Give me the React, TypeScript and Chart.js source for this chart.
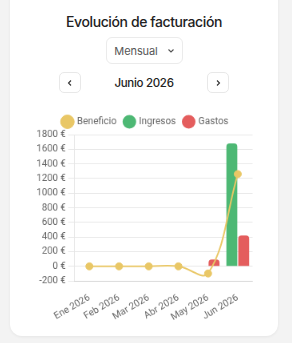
import React, { useEffect, useRef } from 'react';
import { Chart, registerables } from 'chart.js';

Chart.register(...registerables);

const categories = ['Ene 2026', 'Feb 2026', 'Mar 2026', 'Abr 2026', 'May 2026', 'Jun 2026'];
const beneficio = [0, 0, 0, 0, -98, 1260];
const ingresos = [0, 0, 0, 0, 0, 1680];
const gastos = [0, 0, 0, 0, 92, 420];
const yMin = -200;
const yMax = 1800;
const yStep = 200;

const YELLOW = '#E9C766';
const GREEN = '#4DB874';
const RED = '#E45D5D';

const SCALE = 0.8;
const CSS_W = 223;
const CSS_H = 219;

function ChartBox() {
  const ref = useRef<HTMLCanvasElement | null>(null);
  useEffect(() => {
    const canvas = ref.current;
    if (!canvas) return;
    const font = { family: 'Roboto', size: 12 };
    const chart = new Chart(canvas, {
      type: 'bar',
      data: {
        labels: categories,
        datasets: [
          {
            type: 'line',
            label: 'Beneficio',
            data: beneficio,
            borderColor: YELLOW,
            backgroundColor: YELLOW,
            borderWidth: 2,
            pointRadius: 4.5,
            pointBackgroundColor: YELLOW,
            pointBorderColor: YELLOW,
            pointBorderWidth: 1,
            tension: 0.4,
          } as any,
          {
            type: 'bar',
            label: 'Ingresos',
            data: ingresos,
            backgroundColor: GREEN,
            borderColor: GREEN,
            borderWidth: 0,
            borderRadius: 4,
            barPercentage: 0.92,
            categoryPercentage: 0.8,
          },
          {
            type: 'bar',
            label: 'Gastos',
            data: gastos,
            backgroundColor: RED,
            borderColor: RED,
            borderWidth: 0,
            borderRadius: 4,
            barPercentage: 0.92,
            categoryPercentage: 0.8,
          },
        ],
      },
      options: {
        responsive: false,
        devicePixelRatio: 1,
        animation: false,
        plugins: {
          legend: {
            position: 'top',
            labels: { usePointStyle: true, pointStyle: 'circle', color: '#666', font },
          },
          tooltip: { enabled: false },
        },
        scales: {
          x: {
            grid: { display: false },
            ticks: { color: '#666', font, padding: 6 },
          },
          y: {
            min: yMin,
            max: yMax,
            ticks: {
              stepSize: yStep,
              color: '#666',
              font,
              callback: (v: any) => v + ' €',
            },
          },
        },
      },
    });
    return () => chart.destroy();
  }, []);
  return (
    <canvas
      ref={ref}
      width={Math.round(CSS_W / SCALE)}
      height={Math.round(CSS_H / SCALE)}
      style={{ position: 'absolute', left: 34, top: 109, width: CSS_W, height: CSS_H }}
    />
  );
}

const btn: React.CSSProperties = {
  position: 'absolute',
  top: 72,
  width: 22,
  height: 21,
  border: '1px solid #e8e8e8',
  borderRadius: 5,
  boxSizing: 'border-box',
  display: 'flex',
  alignItems: 'center',
  justifyContent: 'center',
  background: '#fff',
};

export default function App() {
  return (
    <div
      style={{
        position: 'fixed',
        inset: 0,
        background: '#f3f3f3',
        fontFamily: 'Inter, sans-serif',
        overflow: 'hidden',
      }}
    >
      <div
        style={{
          position: 'absolute',
          left: 10,
          top: -20,
          width: 268,
          height: 356,
          background: '#fff',
          borderRadius: 12,
          boxShadow: '0 1px 3px rgba(0,0,0,0.06)',
        }}
      />
      <div
        style={{
          position: 'absolute',
          left: 10,
          width: 268,
          top: 12,
          textAlign: 'center',
          fontSize: 14,
          fontWeight: 500,
          color: '#222',
          lineHeight: '20px',
          letterSpacing: -0.4,
        }}
      >
        Evolución de facturación
      </div>
      <div
        style={{
          position: 'absolute',
          left: 106,
          top: 37,
          width: 77,
          height: 27,
          border: '1px solid #ebebeb',
          borderRadius: 6,
          boxSizing: 'border-box',
          display: 'flex',
          alignItems: 'center',
          justifyContent: 'center',
          gap: 9,
          fontSize: 11,
          color: '#555',
          letterSpacing: -0.1,
        }}
      >
        <span>Mensual</span>
        <svg width="8" height="6" viewBox="0 0 8 6">
          <polyline points="1.5,1.5 4,4 6.5,1.5" fill="none" stroke="#555" strokeWidth="1.1" />
        </svg>
      </div>
      <div style={{ ...btn, left: 59 }}>
        <svg width="6" height="8" viewBox="0 0 6 8">
          <polyline points="4,1.5 1.5,4 4,6.5" fill="none" stroke="#333" strokeWidth="1.1" />
        </svg>
      </div>
      <div style={{ ...btn, left: 207 }}>
        <svg width="6" height="8" viewBox="0 0 6 8">
          <polyline points="2,1.5 4.5,4 2,6.5" fill="none" stroke="#333" strokeWidth="1.1" />
        </svg>
      </div>
      <div
        style={{
          position: 'absolute',
          left: 10,
          width: 268,
          top: 74,
          textAlign: 'center',
          fontSize: 11.5,
          fontWeight: 500,
          color: '#222',
          lineHeight: '18px',
          letterSpacing: -0.3,
        }}
      >
        Junio 2026
      </div>
      <ChartBox />
    </div>
  );
}
